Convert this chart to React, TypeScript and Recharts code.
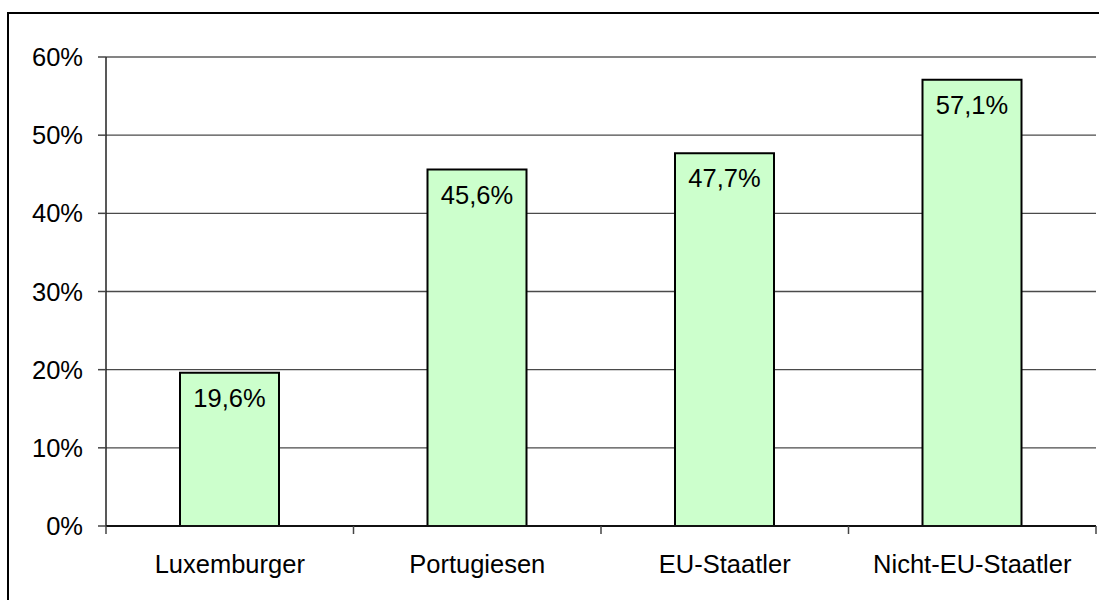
import { BarChart, Bar, XAxis, YAxis, CartesianGrid, LabelList, ReferenceLine } from "recharts";

const categories = ["Luxemburger", "Portugiesen", "EU-Staatler", "Nicht-EU-Staatler"];
const shares = [19.6, 45.6, 47.7, 57.1];
const yTicks = [0, 10, 20, 30, 40, 50, 60];

const W = 1099;
const H = 600;
const MARGIN = { top: 57, right: 3, bottom: 0, left: 0 };
const Y_W = 106;
const X_H = 74;
const TICK_SIZE = 8;
const X_TICK_MARGIN = 21;
const FONT = 25.5;
const BAND = (W - MARGIN.left - MARGIN.right - Y_W) / categories.length;

const data = categories.map((name, i) => ({ name, share: shares[i] }));

const pct = (v: number) => v.toFixed(1).replace(".", ",") + "%";

// category labels with tick marks between the bars (Excel style)
function CategoryTick(props: any) {
  const { x, y, payload, index } = props;
  const axisY = y - TICK_SIZE - X_TICK_MARGIN;
  const left = x - BAND / 2;
  const right = x + BAND / 2;
  return (
    <g>
      <line x1={left} x2={left} y1={axisY} y2={axisY + TICK_SIZE} stroke="#444" strokeWidth={1.5} />
      {index === categories.length - 1 && (
        <line x1={right} x2={right} y1={axisY} y2={axisY + TICK_SIZE} stroke="#444" strokeWidth={1.5} />
      )}
      <text x={x} y={y} dy="0.71em" textAnchor="middle" fontSize={FONT} fill="#000">
        {payload.value}
      </text>
    </g>
  );
}

export default function App() {
  return (
    <div
      style={{
        position: "absolute",
        left: 0,
        top: 0,
        width: W,
        height: H,
        overflow: "hidden",
        background: "#fff",
        fontFamily: "'Liberation Sans', Arial, sans-serif",
      }}
    >
      <div
        style={{
          position: "absolute",
          left: 7,
          top: 12,
          width: 1200,
          height: 700,
          border: "2px solid #000",
          boxSizing: "border-box",
        }}
      />
      <div style={{ position: "absolute", left: 0, top: 0 }}>
        <BarChart width={W} height={H} data={data} margin={MARGIN}>
          <CartesianGrid vertical={false} stroke="#4a4a4a" strokeWidth={1.3} />
          <XAxis
            dataKey="name"
            height={X_H}
            interval={0}
            tickSize={TICK_SIZE}
            tickMargin={X_TICK_MARGIN}
            tickLine={false}
            axisLine={{ stroke: "#111", strokeWidth: 2 }}
            tick={<CategoryTick />}
          />
          <YAxis
            width={Y_W}
            domain={[0, 60]}
            ticks={yTicks}
            interval={0}
            tickFormatter={(v: number) => `${v}%`}
            tickSize={TICK_SIZE}
            tickMargin={15}
            tickLine={{ stroke: "#444", strokeWidth: 1.5 }}
            axisLine={{ stroke: "#222", strokeWidth: 1.5 }}
            tick={{ fill: "#000", fontSize: FONT }}
          />
          <YAxis
            yAxisId="r"
            orientation="right"
            width={0}
            domain={[0, 60]}
            tick={false}
            tickLine={false}
            axisLine={{ stroke: "#888", strokeWidth: 1.5 }}
          />
          <ReferenceLine y={60} stroke="#888" strokeWidth={1.5} />
          <Bar dataKey="share" fill="#ccffcc" stroke="#000" strokeWidth={2} barSize={99} isAnimationActive={false}>
            <LabelList
              dataKey="share"
              position="insideTop"
              offset={16}
              formatter={(v: any) => pct(Number(v))}
              fill="#000"
              fontSize={FONT}
            />
          </Bar>
        </BarChart>
      </div>
    </div>
  );
}
